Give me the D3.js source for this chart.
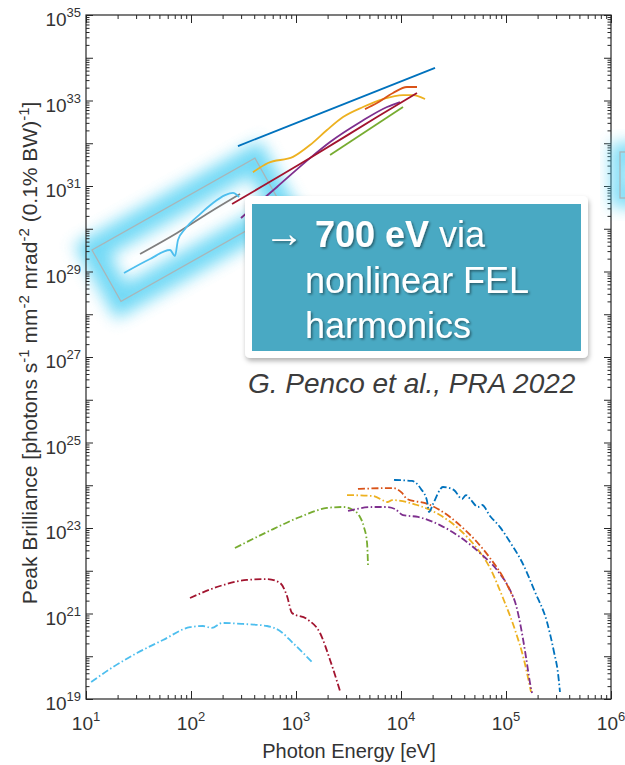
<!DOCTYPE html>
<html lang="en">
<head>
<meta charset="utf-8">
<title>Peak Brilliance</title>
<script src="https://d3js.org/d3.v7.min.js"></script>
<style>
  body { margin: 0; background: #fff; }
  svg text { font-family: "Liberation Sans", Arial, Helvetica, sans-serif; }
</style>
</head>
<body>
<div id="chart"></div>
<script>
// ---- data: [photon energy (eV), peak brilliance] ----
// solid lines (FEL sources)
var solidBlue      = [[280, 8.6e31], [21100, 5.8e33]];
var solidYellow    = [[389, 2.1e31], [541, 3.45e31], [936, 4.8e31], [1360, 9.1e31], [1973, 2.04e32], [2805, 4.1e32],
                      [4350, 7.05e32], [6740, 1.08e33], [10450, 1.34e33], [13000, 1.34e33], [16930, 1.08e33]];
var solidRed       = [[4540, 6.3e32], [5910, 8.7e32], [8390, 1.5e33], [11400, 2.07e33], [14200, 2.07e33]];
var solidPurple    = [[299, 1.78e30], [659, 9.5e30], [1360, 4.5e31], [2110, 1.07e32], [4070, 3.1e32], [7360, 7.05e32], [9780, 9.2e32]];
var solidDarkRed   = [[246, 3.8e30], [1360, 4.5e31], [5910, 4.1e32], [14200, 1.5e33]];
var solidGreen     = [[2110, 5.3e31], [10450, 7.05e32]];
var solidGray      = [[32.7, 2.57e29], [73.6, 7.96e29], [152, 2.47e30], [293, 6.5e30]];
var solidLightBlue = [[23, 9.2e28], [40.7, 1.96e29], [63.1, 3.18e29], [70.4, 2.3e29], [75.2, 5.46e29], [87.7, 9.9e29],
                      [122, 2.2e30], [162, 4.0e30], [211, 6.1e30], [251, 6.9e30], [287, 5.5e30]];

// dash-dot lines (synchrotron sources)
var dashLightBlue = [[11.2, 2.5e19], [18.1, 5.6e19], [30.6, 1.19e20], [54.1, 2.4e20], [97.8, 4.8e20], [130, 5.1e20],
                     [158, 4.6e20], [197, 6.0e20], [313, 5.7e20], [530, 5.1e20], [704, 3.9e20], [936, 2.04e20], [1452, 6.95e19]];
var dashDarkRed   = [[97.8, 2.3e21], [189, 4.4e21], [341, 6.1e21], [530, 6.4e21], [704, 5.2e21], [821, 2.56e21],
                     [916, 1.03e21], [1273, 7.4e20], [1693, 3.5e20], [2110, 8.2e19], [2625, 1.54e19]];
var dashGreen     = [[262, 3.4e22], [530, 8.05e22], [1091, 1.81e23], [1973, 2.94e23], [2805, 3.1e23], [3490, 2.64e23],
                     [4070, 1.81e23], [4440, 1.05e23], [4750, 4.46e22], [4850, 1.36e22]];
var dashYellow    = [[3060, 5.9e23], [5410, 5.6e23], [7520, 4.06e23], [8210, 4.5e23], [14200, 3.45e23], [23500, 2.01e23],
                     [36500, 8.98e22], [50700, 3.8e22], [70400, 1.16e22], [93600, 2.3e21], [122000, 4.1e20],
                     [148400, 8.2e19], [173000, 1.46e19]];
var dashRed       = [[3890, 8.2e23], [8390, 8.6e23], [10230, 6.6e23], [11400, 4.77e23], [18070, 3.64e23], [29300, 1.81e23],
                     [38900, 1.0e23], [52900, 4.7e22], [70400, 1.99e22], [93600, 7.1e21], [116700, 2.43e21]];
var dashPurple    = [[3130, 2.5e23], [5410, 3.1e23], [7360, 3.1e23], [8770, 2.78e23], [10450, 2.01e23], [14520, 1.81e23],
                     [23500, 1.17e23], [36500, 6.15e22], [56500, 2.6e22], [82100, 1.04e22], [109100, 3.55e21],
                     [124500, 1.58e21], [139000, 4.6e20], [155000, 9.6e19], [169300, 2.37e19], [177000, 1.38e19]];
var dashBlue      = [[8570, 1.33e24], [12730, 1.26e24], [15500, 8.2e23], [17700, 4.3e23], [18490, 2.37e23], [20200, 3.64e23],
                     [25100, 9.1e23], [32000, 7.7e23], [38100, 4.77e23], [41600, 5.9e23], [46400, 4.5e23], [54100, 3.1e23],
                     [59100, 3.45e23], [70400, 1.91e23], [87700, 1.05e23], [109100, 4.7e22], [142000, 1.6e22],
                     [188800, 3.2e21], [245700, 6.3e20], [286400, 1.26e20], [312600, 4.06e19], [326600, 1.46e19]];

// axis ticks (decade exponents)
var xDecades = [1, 2, 3, 4, 5, 6];
var yDecades = d3.range(19, 36);
var yLabelled = [19, 21, 23, 25, 27, 29, 31, 33, 35];

var DD = "7,2.5,1.5,2.5";
var series = [
  {d: solidBlue, c: "#0072BD", dash: null},
  {d: solidYellow, c: "#EDB120", dash: null},
  {d: solidRed, c: "#D95319", dash: null},
  {d: solidPurple, c: "#7E2F8E", dash: null},
  {d: solidGreen, c: "#77AC30", dash: null},
  {d: solidDarkRed, c: "#A2142F", dash: null},
  {d: solidGray, c: "#7f7f7f", dash: null},
  {d: solidLightBlue, c: "#4DBEEE", dash: null},
  {d: dashLightBlue, c: "#4DBEEE", dash: DD},
  {d: dashDarkRed, c: "#A2142F", dash: DD},
  {d: dashGreen, c: "#77AC30", dash: DD},
  {d: dashYellow, c: "#EDB120", dash: DD},
  {d: dashPurple, c: "#7E2F8E", dash: DD},
  {d: dashRed, c: "#D95319", dash: DD},
  {d: dashBlue, c: "#0072BD", dash: DD}
];

var W = 625, H = 765;
var pL = 86, pR = 611, pT = 15, pB = 699;
var axisColor = "#262626";
var labColor = "#333";

var svg = d3.select("#chart").append("svg")
    .attr("width", W).attr("height", H);

var defs = svg.append("defs");
defs.append("filter").attr("id", "glow")
    .attr("x", "-50%").attr("y", "-50%").attr("width", "200%").attr("height", "200%")
  .append("feGaussianBlur").attr("stdDeviation", 8);
var sh = defs.append("filter").attr("id", "shadow")
    .attr("x", "-10%").attr("y", "-10%").attr("width", "120%").attr("height", "130%");
sh.append("feDropShadow").attr("dx", 1).attr("dy", 3).attr("stdDeviation", 2.5)
    .attr("flood-color", "#000").attr("flood-opacity", 0.3);
var tsh = defs.append("filter").attr("id", "tshadow");
tsh.append("feDropShadow").attr("dx", 1.5).attr("dy", 1.5).attr("stdDeviation", 1)
    .attr("flood-color", "#000").attr("flood-opacity", 0.45);

var x = d3.scaleLog().domain([10, 1e6]).range([pL, pR]);
var y = d3.scaleLog().domain([1e19, 1e35]).range([pB, pT]);

// glow behind the data (highlight box)
var hl = svg.append("g").attr("transform", "translate(92,250) rotate(-29.4)");
hl.append("rect").attr("width", 187).attr("height", 59)
    .attr("fill", "none").attr("stroke", "#5ad3f4").attr("stroke-width", 26)
    .attr("opacity", 0.85).attr("filter", "url(#glow)");

// minor / major ticks
var xMinor = [], yMinor = [];
xDecades.slice(0, -1).forEach(function(e) { for (var k = 2; k < 10; k++) xMinor.push(k * Math.pow(10, e)); });
yDecades.slice(0, -1).forEach(function(e) { for (var k = 2; k < 10; k++) yMinor.push(k * Math.pow(10, e)); });
var xMajor = xDecades.map(function(e) { return Math.pow(10, e); });
var yMajor = yDecades.map(function(e) { return Math.pow(10, e); });

function styleAxis(g) {
  g.select(".domain").remove();
  g.selectAll(".tick line").attr("stroke", axisColor).attr("stroke-width", 1);
  g.selectAll(".tick text").remove();
}
svg.append("g").attr("transform", "translate(0," + pB + ")")
   .call(d3.axisBottom(x).tickValues(xMajor).tickSize(-8)).call(styleAxis);
svg.append("g").attr("transform", "translate(0," + pB + ")")
   .call(d3.axisBottom(x).tickValues(xMinor).tickSize(-4)).call(styleAxis);
svg.append("g").attr("transform", "translate(0," + pT + ")")
   .call(d3.axisTop(x).tickValues(xMajor).tickSize(-8)).call(styleAxis);
svg.append("g").attr("transform", "translate(0," + pT + ")")
   .call(d3.axisTop(x).tickValues(xMinor).tickSize(-4)).call(styleAxis);
svg.append("g").attr("transform", "translate(" + pL + ",0)")
   .call(d3.axisLeft(y).tickValues(yMajor).tickSize(-7)).call(styleAxis);
svg.append("g").attr("transform", "translate(" + pL + ",0)")
   .call(d3.axisLeft(y).tickValues(yMinor).tickSize(-3.5)).call(styleAxis);
svg.append("g").attr("transform", "translate(" + pR + ",0)")
   .call(d3.axisRight(y).tickValues(yMajor).tickSize(-7)).call(styleAxis);
svg.append("g").attr("transform", "translate(" + pR + ",0)")
   .call(d3.axisRight(y).tickValues(yMinor).tickSize(-3.5)).call(styleAxis);

svg.append("rect").attr("x", pL).attr("y", pT)
   .attr("width", pR - pL).attr("height", pB - pT)
   .attr("fill", "none").attr("stroke", axisColor).attr("stroke-width", 1.2);

// tick labels 10^n
xDecades.forEach(function(e) {
  var t = svg.append("text").attr("x", x(Math.pow(10, e))).attr("y", 730)
      .attr("text-anchor", "middle").attr("fill", labColor).style("font-size", "19px");
  t.append("tspan").text("10");
  t.append("tspan").attr("dy", -9).style("font-size", "13px").text(e);
});
yLabelled.forEach(function(e) {
  var t = svg.append("text").attr("x", 81).attr("y", y(Math.pow(10, e)) + 11)
      .attr("text-anchor", "end").attr("fill", labColor).style("font-size", "19px");
  t.append("tspan").text("10");
  t.append("tspan").attr("dy", -9).style("font-size", "13px").text(e);
});

// axis titles
svg.append("text").attr("x", 349).attr("y", 758).attr("text-anchor", "middle")
   .attr("fill", labColor).style("font-size", "20px").text("Photon Energy [eV]");

var yt = svg.append("text").attr("transform", "translate(37,353) rotate(-90)")
   .attr("text-anchor", "middle").attr("fill", labColor).style("font-size", "21px");
[["Peak Brilliance [photons s", 0], ["-1", 1], [" mm", 0], ["-2", 1], [" mrad", 0], ["-2", 1],
 [" (0.1% BW)", 0], ["-1", 1], ["]", 0]].forEach(function(p, i, arr) {
  var prevSup = i > 0 && arr[i - 1][1];
  var ts = yt.append("tspan").text(p[0]);
  if (p[1]) ts.attr("dy", -8).style("font-size", "15px");
  else if (prevSup) ts.attr("dy", 8);
});

// data lines
var line = d3.line().x(function(d) { return x(d[0]); }).y(function(d) { return y(d[1]); })
    .curve(d3.curveMonotoneX);
svg.append("g").selectAll("path").data(series).enter().append("path")
   .attr("d", function(s) { return line(s.d); })
   .attr("fill", "none")
   .attr("stroke", function(s) { return s.c; })
   .attr("stroke-width", 1.8)
   .attr("stroke-dasharray", function(s) { return s.dash; });

// highlight box outline
hl.append("rect").attr("width", 187).attr("height", 59)
    .attr("fill", "none").attr("stroke", "#a9b5b8").attr("stroke-width", 1.3);

// partial highlight at the right edge
svg.append("rect").attr("x", 620).attr("y", 152).attr("width", 40).attr("height", 46)
   .attr("fill", "none").attr("stroke", "#5ad3f4").attr("stroke-width", 18)
   .attr("opacity", 0.8).attr("filter", "url(#glow)");
svg.append("rect").attr("x", 620).attr("y", 152).attr("width", 40).attr("height", 46)
   .attr("fill", "none").attr("stroke", "#a9b5b8").attr("stroke-width", 1.3);

// callout box
svg.append("rect").attr("x", 245).attr("y", 196).attr("width", 343).attr("height", 162).attr("rx", 5)
   .attr("fill", "#fff").attr("filter", "url(#shadow)");
svg.append("rect").attr("x", 252).attr("y", 204).attr("width", 329).attr("height", 147)
   .attr("fill", "#49a9c3");

var tg = svg.append("g").attr("fill", "#fff").attr("filter", "url(#tshadow)").style("font-size", "36px");
var l1 = tg.append("text").attr("x", 264).attr("y", 247);
l1.append("tspan").style("font-size", "40px").text("\u2192");
l1.append("tspan").attr("x", 315).style("font-weight", "bold").text("700 eV");
l1.append("tspan").text(" via");
tg.append("text").attr("x", 305).attr("y", 293).text("nonlinear FEL");
tg.append("text").attr("x", 305).attr("y", 338).text("harmonics");

// citation
svg.append("text").attr("x", 248).attr("y", 393)
   .attr("fill", "#3c3c3c").style("font-size", "28px").style("font-style", "italic")
   .text("G. Penco et al., PRA 2022");
</script>
</body>
</html>
